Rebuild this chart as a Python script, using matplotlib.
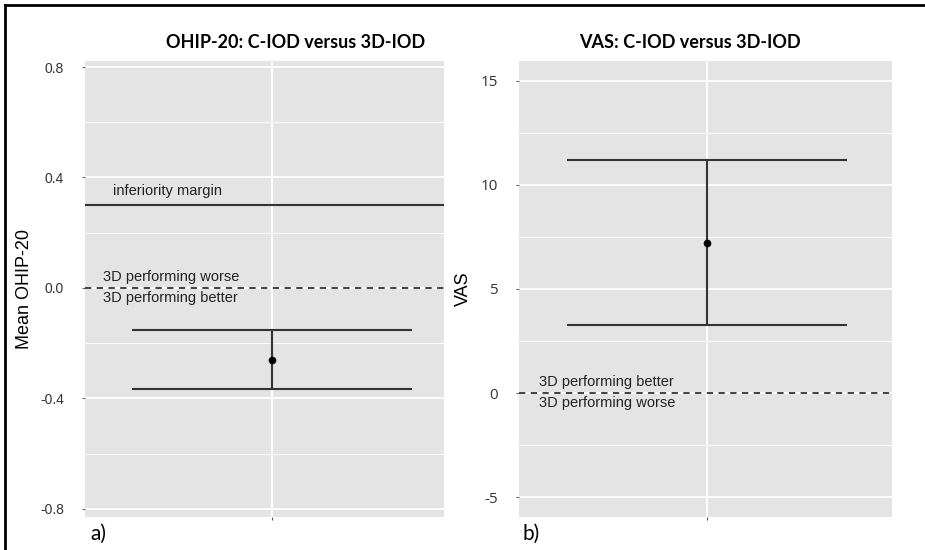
import numpy as np
import matplotlib
matplotlib.use("Agg")
import matplotlib.pyplot as plt
from matplotlib.lines import Line2D

# values
groups = [0]
ohip_mean = [-0.26]
ohip_low = [-0.365]
ohip_high = [-0.152]
ohip_margin = 0.3
ohip_ticks = [-0.8, -0.4, 0.0, 0.4, 0.8]
ohip_ticklabels = ["-0.8", "-0.4", "0.0", "0.4", "0.8"]

vas_mean = [7.2]
vas_low = [3.25]
vas_high = [11.2]
vas_ticks = [-5, 0, 5, 10, 15]
vas_ticklabels = ["-5", "0", "5", "10", "15"]

bg = "#e4e4e4"
bar_col = "#333333"

fig = plt.figure(figsize=(9.25, 5.5), dpi=100)
fig.patch.set_facecolor("white")

def style_panel(ax, ticks, labels, minor, tickfont):
    ax.set_facecolor(bg)
    for s in ax.spines.values():
        s.set_visible(False)
    ax.set_yticks(ticks)
    ax.set_yticklabels(labels, fontfamily=tickfont[0], fontsize=tickfont[1], color="#333333")
    ax.set_yticks(minor, minor=True)
    ax.set_xticks([0])
    ax.set_xticklabels([""])
    ax.grid(True, which="major", color="white", lw=1.3)
    ax.grid(True, which="minor", axis="y", color="white", lw=0.7)
    ax.tick_params(axis="y", which="major", length=2, color="#666666", pad=13)
    ax.tick_params(axis="y", which="minor", length=0)
    ax.tick_params(axis="x", length=2, color="#555555", pad=0)
    ax.set_axisbelow(True)

def draw_ci(ax, mean, low, high):
    m = np.array(mean)
    err = np.array([m - np.array(low), np.array(high) - m])
    ax.errorbar(groups, m, yerr=err, fmt="o", color="black", ms=4.5,
                ecolor=bar_col, elinewidth=1.5, capsize=100.8, capthick=1.5, zorder=3)

# left panel: OHIP-20
ax1 = fig.add_axes([85 / 925, 1 - 517 / 550, 359 / 925, 456 / 550])
style_panel(ax1, ohip_ticks, ohip_ticklabels, [-0.6, -0.2, 0.2, 0.6], ("Liberation Sans", 10))
draw_ci(ax1, ohip_mean, ohip_low, ohip_high)
ax1.axhline(ohip_margin, color=bar_col, lw=1.5, zorder=2)
ax1.axhline(0, color=bar_col, lw=1.3, ls=(0, (3.5, 3)), zorder=2, clip_on=False)
ax1.set_xlim(-187 / 140, 172 / 140)
ax1.set_ylim(-0.83, 0.822)
ax1.set_ylabel("Mean OHIP-20", fontfamily="Liberation Sans", fontsize=13)
ax1.yaxis.set_label_coords(-0.145, 0.5)
tf = dict(fontfamily="Liberation Sans", fontsize=10.5, color="#222222")
ax1.annotate("inferiority margin", xy=(0.078, ohip_margin), xycoords=("axes fraction", "data"),
             xytext=(0, 5), textcoords="offset points", va="bottom", ha="left", **tf)
ax1.annotate("3D performing worse", xy=(0.05, 0), xycoords=("axes fraction", "data"),
             xytext=(0, 3), textcoords="offset points", va="bottom", ha="left", **tf)
ax1.annotate("3D performing better", xy=(0.05, 0), xycoords=("axes fraction", "data"),
             xytext=(0, -2.5), textcoords="offset points", va="top", ha="left", **tf)

# right panel: VAS
ax2 = fig.add_axes([519 / 925, 1 - 517 / 550, 373 / 925, 456 / 550])
style_panel(ax2, vas_ticks, vas_ticklabels, [-2.5, 2.5, 7.5, 12.5], ("Open Sans", 11))
draw_ci(ax2, vas_mean, vas_low, vas_high)
ax2.axhline(0, color=bar_col, lw=1.3, ls=(0, (3.5, 3)), zorder=2, clip_on=False)
ax2.set_xlim(-188 / 140, 185 / 140)
ax2.set_ylim(-5.96, 15.96)
ax2.set_ylabel("VAS", fontfamily="Liberation Sans", fontsize=13)
ax2.yaxis.set_label_coords(-0.127, 0.5)
ax2.annotate("3D performing better", xy=(0.054, 0), xycoords=("axes fraction", "data"),
             xytext=(0, 3), textcoords="offset points", va="bottom", ha="left", **tf)
ax2.annotate("3D performing worse", xy=(0.054, 0), xycoords=("axes fraction", "data"),
             xytext=(0, -2.5), textcoords="offset points", va="top", ha="left", **tf)

# titles and panel letters
fig.text(295.5 / 925, 1 - 48 / 550, "OHIP-20: C-IOD versus 3D-IOD", ha="center", va="baseline",
         fontfamily="Lato", fontweight="bold", fontsize=13)
fig.text(690 / 925, 1 - 48 / 550, "VAS: C-IOD versus 3D-IOD", ha="center", va="baseline",
         fontfamily="Lato", fontweight="bold", fontsize=13)
fig.text(90 / 925, 1 - 540 / 550, "a)", ha="left", va="baseline", fontfamily="Lato", fontsize=15)
fig.text(523 / 925, 1 - 540 / 550, "b)", ha="left", va="baseline", fontfamily="Lato", fontsize=15)

# outer frame (top and left edges)
fig.add_artist(Line2D([5 / 925, 1], [1 - 5 / 550, 1 - 5 / 550], transform=fig.transFigure, color="black", lw=2))
fig.add_artist(Line2D([5 / 925, 5 / 925], [0, 1 - 5 / 550], transform=fig.transFigure, color="black", lw=2))

fig.savefig("out.png", dpi=100)
